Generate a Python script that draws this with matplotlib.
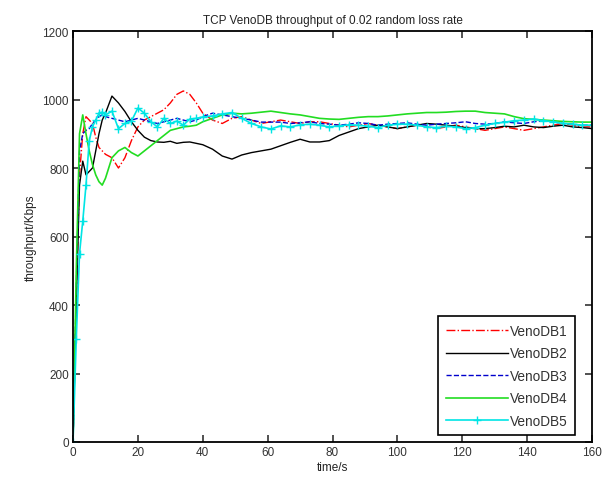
import matplotlib
matplotlib.use("Agg")
import matplotlib.pyplot as plt

plt.rcParams['font.family'] = ['Liberation Sans', 'DejaVu Sans']

# sample times (s)
time_s = [0, 1, 2, 3, 4, 5, 6, 7, 8, 9, 10,
          12, 14, 16, 18, 20, 22, 24, 26, 28, 30, 32, 34, 36, 38, 40,
          43, 46, 49, 52, 55, 58, 61, 64, 67, 70, 73, 76, 79, 82, 85, 88,
          91, 94, 97, 100, 103, 106, 109, 112, 115, 118, 121, 124, 127, 130,
          133, 136, 139, 142, 145, 148, 151, 154, 157, 160]

venodb1 = [0, 420, 780, 900, 950, 940, 930, 890, 860, 850, 840,
           830, 800, 830, 880, 920, 940, 950, 960, 970, 990, 1015, 1025, 1015, 990, 960,
           940, 930, 945, 950, 940, 930, 935, 940, 935, 930, 935, 935, 930, 925, 920, 925,
           930, 925, 920, 915, 920, 925, 920, 915, 920, 925, 920, 915, 910, 915,
           920, 915, 910, 915, 920, 925, 930, 925, 920, 920]

venodb2 = [0, 400, 750, 820, 780, 790, 800, 850, 900, 940, 960,
           1010, 990, 965, 935, 910, 890, 880, 876, 875, 878, 872, 875, 876, 872, 868,
           855, 835, 826, 838, 845, 850, 855, 865, 875, 884, 876, 876, 880, 895, 905, 915,
           920, 925, 920, 915, 920, 925, 930, 928, 925, 922, 918, 915, 915, 918,
           922, 920, 925, 920, 918, 922, 925, 920, 918, 915]

venodb3 = [0, 450, 850, 900, 910, 915, 930, 940, 950, 955, 950,
           945, 940, 935, 940, 945, 940, 935, 930, 935, 940, 945, 940, 935, 940, 950,
           960, 955, 950, 945, 940, 934, 934, 934, 930, 932, 935, 930, 928, 925, 928, 932,
           930, 925, 928, 930, 932, 928, 925, 928, 930, 932, 935, 930, 928, 930,
           935, 932, 930, 935, 938, 935, 930, 928, 925, 925]

venodb4 = [0, 500, 900, 955, 900, 850, 810, 780, 760, 750, 770,
           830, 850, 860, 845, 835, 850, 865, 880, 895, 910, 915, 920, 922, 925, 935,
           945, 955, 960, 958, 960, 963, 966, 962, 958, 955, 950, 945, 943, 942, 945, 948,
           950, 950, 952, 955, 958, 960, 962, 962, 963, 965, 966, 966, 962, 960,
           958, 950, 944, 942, 940, 938, 936, 935, 934, 934]

venodb5 = [0, 300, 550, 645, 750, 880, 920, 940, 960, 963, 955,
           966, 915, 930, 937, 975, 960, 935, 920, 945, 930, 937, 925, 943, 945, 949,
           952, 958, 962, 945, 930, 920, 914, 923, 920, 926, 928, 925, 920, 923, 926, 925,
           922, 918, 925, 928, 928, 925, 920, 918, 922, 920, 915, 918, 925, 930,
           934, 938, 940, 943, 938, 935, 930, 928, 925, 925]

series_names = ['VenoDB1', 'VenoDB2', 'VenoDB3', 'VenoDB4', 'VenoDB5']
x_ticks = [0, 20, 40, 60, 80, 100, 120, 140, 160]
y_ticks = [0, 200, 400, 600, 800, 1000, 1200]

fig = plt.figure(figsize=(6.06, 4.85), dpi=100)
ax = fig.add_axes([0.1205, 0.0866, 0.8565, 0.8474])

ax.plot(time_s, venodb1, color='#ff0000', linestyle='-.', linewidth=1.0, label=series_names[0])
ax.plot(time_s, venodb2, color='#000000', linestyle='-', linewidth=1.0, label=series_names[1])
ax.plot(time_s, venodb3, color='#0000cc', linestyle='--', linewidth=1.0, label=series_names[2])
ax.plot(time_s, venodb4, color='#22dd22', linestyle='-', linewidth=1.2, label=series_names[3])
ax.plot(time_s, venodb5, color='#00e5e5', linestyle='-', linewidth=1.2, marker='+',
        markersize=6, markeredgewidth=1.0, label=series_names[4])

ax.set_xlim(0, 160)
ax.set_ylim(0, 1200)
ax.set_xticks(x_ticks)
ax.set_yticks(y_ticks)
ax.tick_params(direction='in', top=True, right=True, length=5, width=1.2,
               labelsize=8.5, colors='#333333', pad=3)
for sp in ax.spines.values():
    sp.set_linewidth(1.3)

ax.set_title('TCP VenoDB throughput of 0.02 random loss rate', fontsize=8.5, color='#222222', pad=6)
ax.set_xlabel('time/s', fontsize=8.5, color='#222222', labelpad=2)
ax.set_ylabel('throughput/Kbps', fontsize=8.5, color='#222222', labelpad=4)

leg = ax.legend(loc='lower right', bbox_to_anchor=(0.98, 0.0), fontsize=9.8,
                handlelength=4.6, handletextpad=0.1, borderpad=0.55, labelspacing=0.62,
                fancybox=False, framealpha=1, edgecolor='black')
leg.get_frame().set_linewidth(1.2)
for t in leg.get_texts():
    t.set_color('#333333')

fig.savefig('out.png', dpi=100)
